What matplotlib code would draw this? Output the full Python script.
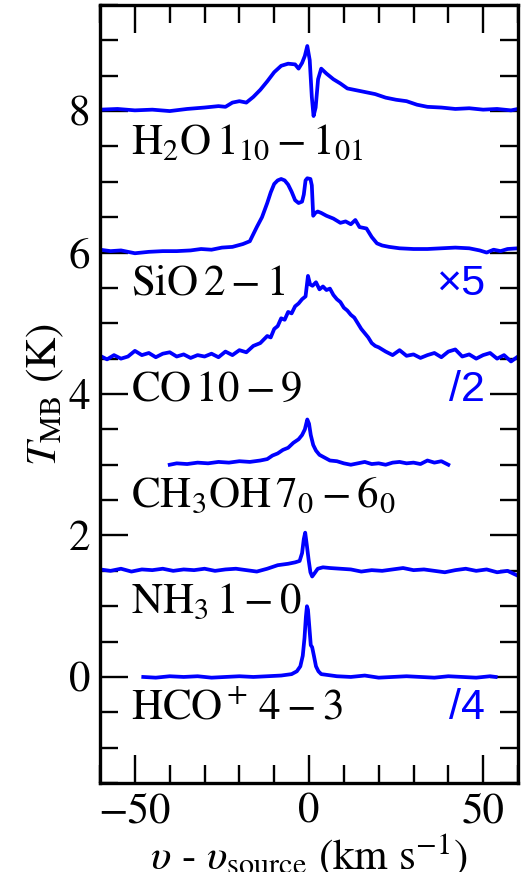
import matplotlib
matplotlib.use("Agg")
import matplotlib.pyplot as plt
from matplotlib.ticker import MultipleLocator

plt.rcParams['font.family'] = 'STIXGeneral'
plt.rcParams['mathtext.fontset'] = 'stix'

# spectra (velocity in km/s, T_MB in K relative to each baseline)
v_h2o = [-60, -55, -50, -45, -40, -35, -30, -26, -24, -22,
         -20, -18, -16, -14, -12, -10, -8, -6, -4, -3,
         -2, -1.2, -0.5, 0.2, 0.8, 1.3, 1.9, 2.6, 3.5, 5,
         7, 9, 11, 13, 16, 19, 22, 25, 28, 31,
         34, 38, 42, 46, 50, 54, 58, 60]
t_h2o = [0.02, 0.03, 0.01, 0.02, 0.0, 0.03, 0.05, 0.07, 0.06, 0.12,
         0.14, 0.12, 0.2, 0.3, 0.42, 0.55, 0.64, 0.67, 0.66, 0.6,
         0.68, 0.78, 0.92, 0.72, 0.2, -0.07, 0.05, 0.45, 0.6, 0.53,
         0.45, 0.39, 0.32, 0.3, 0.27, 0.24, 0.19, 0.16, 0.14, 0.09,
         0.06, 0.05, 0.03, 0.04, 0.02, 0.03, 0.01, 0.03]

v_sio = [-60, -57, -54, -50, -46, -42, -38, -34, -31, -28,
         -25, -22, -19, -17, -15, -13.5, -12, -11, -10, -9,
         -8, -7, -6, -5, -4, -3, -2, -1.5, -1, -0.5,
         0.4, 0.8, 1.2, 1.8, 2.5, 3.5, 5, 7, 9, 10.5,
         12, 13.3, 14.5, 16.5, 18, 19.5, 21, 23, 26, 30,
         34, 38, 42, 46, 49, 51, 53, 55, 57, 60]
t_sio = [0.04, 0.02, 0.03, -0.01, 0.01, 0.02, 0.02, 0.03, 0.05, 0.04,
         0.07, 0.08, 0.12, 0.16, 0.36, 0.5, 0.7, 0.85, 0.97, 1.02,
         1.04, 1.02, 0.96, 0.86, 0.74, 0.70, 0.72, 0.82, 1.02, 1.05,
         1.04, 0.95, 0.52, 0.56, 0.58, 0.56, 0.52, 0.48, 0.42, 0.44,
         0.40, 0.46, 0.36, 0.34, 0.22, 0.13, 0.10, 0.08, 0.06, 0.05,
         0.05, 0.06, 0.07, 0.06, 0.03, 0.0, 0.04, 0.02, 0.05, 0.06]

v_co = [-60, -58, -56, -54, -52, -50, -48, -46, -44, -42, -40, -38,
        -36, -34, -32, -30, -28, -26, -24, -22, -20, -18, -16, -14,
        -12, -11, -10, -9, -8, -7, -6, -5, -4, -3, -2, -1,
        -0.3, 0.3,
        1, 2, 3, 4, 5, 6, 7, 8, 9, 10, 11, 12, 13, 14, 15, 16, 17, 18, 19, 20,
        22, 24, 26, 28, 30, 32, 34, 36, 38, 40, 42, 44, 46, 48, 50, 52,
        54, 56, 58, 60]
t_co = [0.04, -0.01, 0.05, 0.0, 0.03, 0.11, 0.05, 0.08, 0.02, 0.07, 0.09, 0.03,
        0.06, 0.01, 0.05, 0.03, 0.07, 0.02, 0.10, 0.05, 0.12, 0.09, 0.18, 0.22,
        0.32, 0.30, 0.42, 0.46, 0.57, 0.55, 0.66, 0.64, 0.74, 0.78, 0.84, 0.88,
        1.17, 1.05,
        1.03, 1.08, 0.98, 1.02, 0.97, 0.99, 0.90, 0.84, 0.80, 0.72, 0.68, 0.62,
        0.58, 0.50, 0.42, 0.36, 0.30, 0.22, 0.18, 0.16,
        0.10, 0.05, 0.12, 0.04, 0.06, 0.01, 0.05, 0.08, 0.02, 0.10, 0.13, 0.03,
        0.06, 0.0, 0.05, 0.08, 0.0, 0.05, -0.04, 0.03]

v_ch3oh = [-40, -38, -35, -32, -29, -26, -23, -20, -17, -14,
           -12, -10.5, -9, -7.5, -6, -4.5, -3, -2, -1.2, -0.5,
           0, 0.5, 1.2, 2, 3, 4.5, 6, 8, 10, 12,
           14, 16, 18, 20, 22, 24, 26, 28, 30, 32,
           34, 36, 38, 40]
t_ch3oh = [0.0, 0.02, 0.01, 0.03, 0.02, 0.04, 0.03, 0.05, 0.04, 0.06,
           0.08, 0.13, 0.16, 0.21, 0.24, 0.31, 0.36, 0.42, 0.5, 0.64,
           0.58, 0.42, 0.28, 0.2, 0.14, 0.1, 0.06, 0.05, 0.02, 0.0,
           0.02, 0.04, 0.01, 0.02, 0.0, 0.03, 0.04, 0.02, 0.03, 0.01,
           0.06, 0.03, 0.05, 0.0]

v_nh3 = [-60, -57, -54, -51, -48, -45, -42, -39, -36, -33,
         -30, -27, -24, -21, -18, -15, -12, -9, -6, -4,
         -2.7, -2, -1.5, -1.1, -0.6, -0.1, 0.4, 0.9, 1.5, 2.5,
         4, 6, 9, 12, 15, 18, 21, 24, 27, 30,
         33, 36, 39, 42, 45, 48, 51, 54, 57, 60]
t_nh3 = [0.02, 0.0, 0.03, -0.01, 0.02, 0.01, 0.03, 0.0, 0.02, 0.01,
         0.03, 0.0, 0.02, 0.03, 0.01, -0.01, 0.03, 0.08, 0.1, 0.12,
         0.14, 0.25, 0.45, 0.54, 0.35, 0.15, -0.02, -0.08, -0.04, 0.03,
         0.05, 0.04, 0.03, 0.02, -0.01, 0.01, 0.0, 0.02, 0.04, 0.01,
         0.02, 0.0, -0.02, 0.01, 0.03, 0.0, 0.02, -0.02, 0.0, -0.07]

v_hco = [-47.6, -44, -40, -36, -32, -28, -24, -20, -16, -12,
         -8, -5, -3.5, -2.5, -1.8, -1.3, -0.9, -0.6, -0.3, 0.1,
         0.5, 0.9, 1.4, 2, 2.7, 3.5, 5, 8, 12, 16,
         20, 24, 28, 32, 36, 40, 44, 48, 52, 53.6]
t_hco = [0.0, -0.01, 0.01, 0.0, 0.01, -0.01, 0.0, 0.01, 0.0, 0.01,
         0.02, 0.04, 0.08, 0.15, 0.3, 0.55, 0.85, 1.0, 0.95, 0.7,
         0.45, 0.42, 0.3, 0.15, 0.08, 0.04, 0.03, 0.01, 0.0, 0.02,
         -0.01, 0.0, 0.01, 0.0, -0.01, 0.01, 0.0, -0.01, 0.01, 0.0]

labels = [r'$\mathrm{H_2O\,1_{10}-1_{01}}$', r'$\mathrm{SiO\,2-1}$',
          r'$\mathrm{CO\,10-9}$', r'$\mathrm{CH_3OH\,7_0-6_0}$',
          r'$\mathrm{NH_3\,1-0}$', r'$\mathrm{HCO^+\,4-3}$']
offsets = [8.0, 6.0, 4.5, 3.0, 1.5, 0.0]
scales = ['', '×5', '/2', '', '', '/4']

spectra = [(v_h2o, t_h2o), (v_sio, t_sio), (v_co, t_co),
           (v_ch3oh, t_ch3oh), (v_nh3, t_nh3), (v_hco, t_hco)]

fig = plt.figure(figsize=(5.24, 8.72), dpi=100)
ax = fig.add_axes([0.191, 0.102, 0.7975, 0.8923])

fs = 31
for (v, t), off, lab, sc in zip(spectra, offsets, labels, scales):
    ax.plot(v, [x + off for x in t], color='#0000ff', lw=2.7)
    ax.text(-51, off - 0.6, lab, fontsize=fs, va='baseline', ha='left')
    if sc:
        ax.text(50.6, off - 0.6, sc, fontsize=fs, va='baseline', ha='right',
                color='#0000ff', family='Liberation Sans')

ax.set_xlim(-60, 60)
ax.set_ylim(-1.5, 9.5)
ax.xaxis.set_major_locator(MultipleLocator(50))
ax.xaxis.set_minor_locator(MultipleLocator(10))
ax.yaxis.set_major_locator(MultipleLocator(2))
ax.yaxis.set_minor_locator(MultipleLocator(0.5))
ax.tick_params(which='both', direction='in', top=True, right=True,
               labelsize=fs, width=1.7, pad=7)
ax.tick_params(which='major', length=20)
ax.tick_params(which='minor', length=13)
for s in ax.spines.values():
    s.set_linewidth(2.4)

ax.set_xlabel(r'$\upsilon$ - $\upsilon_{\rm source}$ (km s$^{-1}$)', fontsize=fs, labelpad=0)
ax.set_ylabel(r'$T_{\rm MB}$ (K)', fontsize=fs, labelpad=2)

fig.savefig('out.png', dpi=100)
